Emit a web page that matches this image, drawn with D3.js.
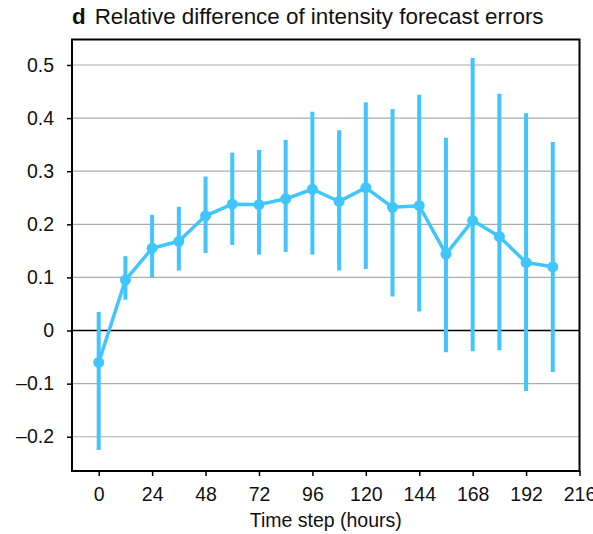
<!DOCTYPE html>
<html><head><meta charset="utf-8">
<script src="https://cdn.jsdelivr.net/npm/d3@7"></script>
<style>body{margin:0;background:#fff}svg{display:block}text{font-family:"Liberation Sans",Arial,Helvetica,sans-serif;fill:#111}</style>
</head><body>
<script>
const hours = [0,12,24,36,48,60,72,84,96,108,120,132,144,156,168,180,192,204];
const meanDiff = [-0.06,0.095,0.155,0.168,0.216,0.238,0.237,0.248,0.266,0.243,0.269,0.232,0.235,0.144,0.207,0.177,0.128,0.12];
const upper = [0.035,0.14,0.218,0.233,0.29,0.335,0.34,0.359,0.412,0.377,0.43,0.417,0.444,0.363,0.513,0.446,0.409,0.355];
const lower = [-0.225,0.058,0.1,0.113,0.146,0.161,0.143,0.148,0.143,0.113,0.116,0.064,0.036,-0.041,-0.039,-0.037,-0.114,-0.078];
const xTicks = [0,24,48,72,96,120,144,168,192,216];
const yTicks = [-0.2,-0.1,0,0.1,0.2,0.3,0.4,0.5];

const W=593,H=534;
const svg=d3.select("body").append("svg").attr("width",W).attr("height",H);
const x=d3.scaleLinear().domain([-12,216]).range([72,579.5]);
const y=d3.scaleLinear().domain([-0.2645,0.548]).range([471,39.5]);
const color="#40c6fd";

// gridlines
svg.append("g").selectAll("line").data(yTicks.filter(v=>v!==0)).join("line")
  .attr("x1",72).attr("x2",579.5).attr("y1",d=>y(d)).attr("y2",d=>y(d))
  .attr("stroke","#ababab").attr("stroke-width",1.2);
svg.append("line").attr("x1",72).attr("x2",579.5).attr("y1",y(0)).attr("y2",y(0))
  .attr("stroke","#000").attr("stroke-width",1.5);

// axes
const fmt=d=>d===0?"0":(d<0?"\u2013"+d3.format(".1f")(-d):d3.format(".1f")(d));
const yAxis=svg.append("g").attr("transform","translate(72,0)")
  .call(d3.axisLeft(y).tickValues(yTicks).tickFormat(fmt).tickSize(5).tickPadding(13));
const xAxis=svg.append("g").attr("transform",`translate(0,${y.range()[0]})`)
  .call(d3.axisBottom(x).tickValues(xTicks).tickSize(5).tickPadding(11));
[yAxis,xAxis].forEach(g=>{
  g.select(".domain").remove();
  g.selectAll("line").attr("stroke","#000").attr("stroke-width",1.5);
  g.selectAll("text").attr("font-size","19.5px").attr("fill","#111").style("font-family",'"Liberation Sans",Arial,sans-serif');
});
// frame
svg.append("rect").attr("x",72).attr("y",39.5).attr("width",507.5).attr("height",431.5)
  .attr("fill","none").attr("stroke","#000").attr("stroke-width",2);

// error bars
svg.append("g").selectAll("line").data(hours).join("line")
  .attr("x1",d=>x(d)).attr("x2",d=>x(d))
  .attr("y1",(d,i)=>y(upper[i])).attr("y2",(d,i)=>y(lower[i]))
  .attr("stroke",color).attr("stroke-width",4);
// line
svg.append("path").datum(hours).attr("fill","none").attr("stroke",color).attr("stroke-width",3.5)
  .attr("stroke-linejoin","round")
  .attr("d",d3.line().x(d=>x(d)).y((d,i)=>y(meanDiff[i])));
svg.append("g").selectAll("circle").data(hours).join("circle")
  .attr("cx",d=>x(d)).attr("cy",(d,i)=>y(meanDiff[i])).attr("r",5.5).attr("fill",color);

// title
const t=svg.append("text").attr("x",72).attr("y",24).attr("font-size","22.4px");
t.append("tspan").attr("font-weight","bold").text("d");
t.append("tspan").attr("dx",9).text("Relative difference of intensity forecast errors");
svg.append("text").attr("x",(x.range()[0]+x.range()[1])/2).attr("y",527).attr("text-anchor","middle").attr("font-size","19.5px").text("Time step (hours)");
</script>
</body></html>
